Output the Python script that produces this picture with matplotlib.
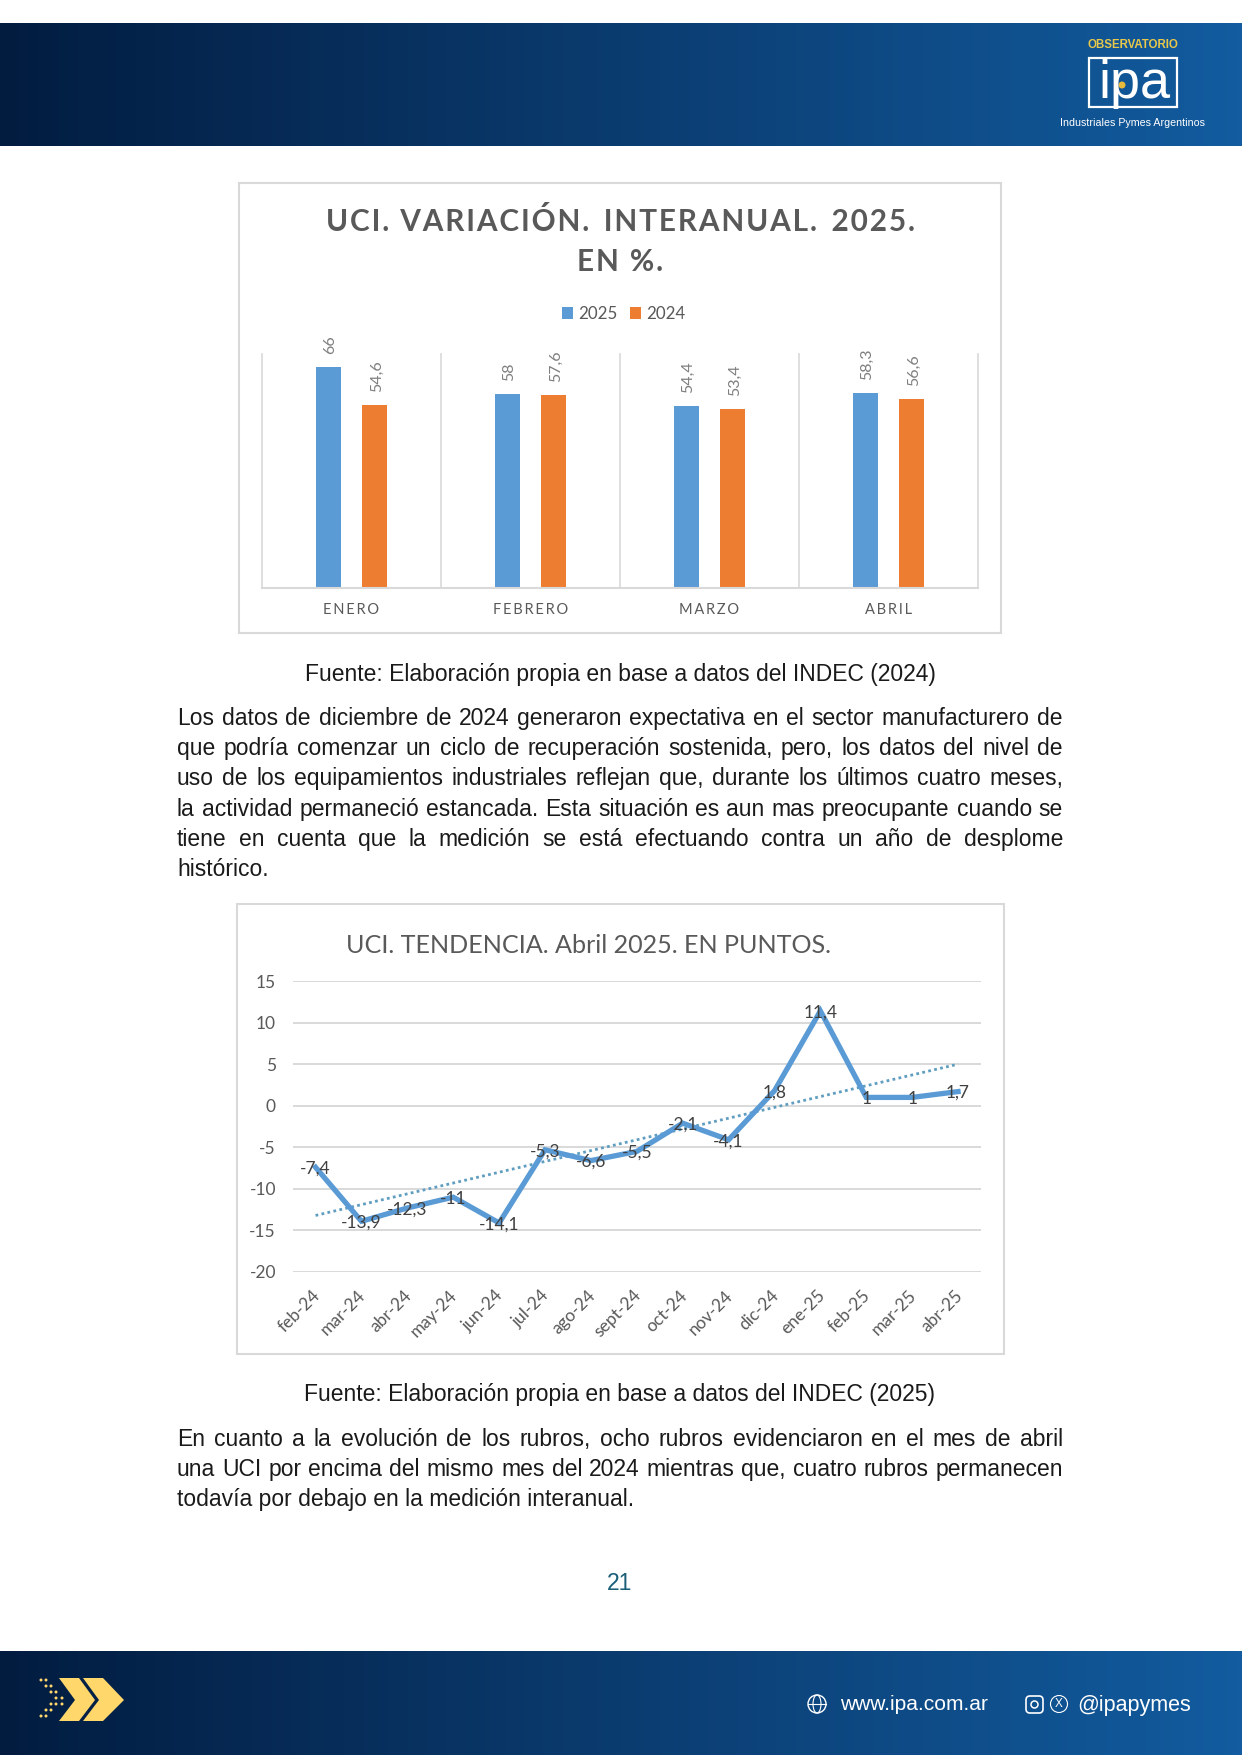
import numpy as np
import matplotlib
matplotlib.use('Agg')
import matplotlib.pyplot as plt
from matplotlib.patches import Polygon, Rectangle, Circle, FancyBboxPatch, Ellipse
from matplotlib.transforms import ScaledTranslation

W, H = 1242, 1755

# bar chart data
months = ['ENERO', 'FEBRERO', 'MARZO', 'ABRIL']
uci_2025 = [66, 58, 54.4, 58.3]
uci_2024 = [54.6, 57.6, 53.4, 56.6]

# line chart data
periods = ['feb-24', 'mar-24', 'abr-24', 'may-24', 'jun-24', 'jul-24', 'ago-24', 'sept-24',
           'oct-24', 'nov-24', 'dic-24', 'ene-25', 'feb-25', 'mar-25', 'abr-25']
trend_points = [-7.4, -13.9, -12.3, -11, -14.1, -5.3, -6.6, -5.5, -2.1, -4.1, 1.8, 11.4, 1, 1, 1.7]
trend_ends = [-13.2, 5.0]
y_ticks = [-20, -15, -10, -5, 0, 5, 10, 15]

para1 = ['Los datos de diciembre de 2024 generaron expectativa en el sector manufacturero de',
         'que podría comenzar un ciclo de recuperación sostenida, pero, los datos del nivel de',
         'uso de los equipamientos industriales reflejan que, durante los últimos cuatro meses,',
         'la actividad permaneció estancada. Esta situación es aun mas preocupante cuando se',
         'tiene en cuenta que la medición se está efectuando contra un año de desplome',
         'histórico.']
para2 = ['En cuanto a la evolución de los rubros, ocho rubros evidenciaron en el mes de abril',
         'una UCI por encima del mismo mes del 2024 mientras que, cuatro rubros permanecen',
         'todavía por debajo en la medición interanual.']

BLUE = '#5b9bd5'
ORANGE = '#ed7d31'
GREY = '#d9d9d9'
CHART_FONT = ['Lato', 'DejaVu Sans']
HAIR = '\u200a'

fig = plt.figure(figsize=(W / 100, H / 100), dpi=100, facecolor='white')


def px_axes(x0, y0, x1, y1, **kw):
    return fig.add_axes([x0 / W, 1 - y1 / H, (x1 - x0) / W, (y1 - y0) / H], **kw)


def spaced(s, sep=HAIR):
    return sep.join(s)


page = px_axes(0, 0, W, H)
page.set_xlim(0, W)
page.set_ylim(H, 0)
page.axis('off')

# header and footer bands
grad = np.linspace(0, 1, 256).reshape(1, -1)
cmap = matplotlib.colors.LinearSegmentedColormap.from_list('band', ['#021c40', '#0b3c70', '#125c9f'])
page.imshow(grad, extent=(0, W, 146, 23), aspect='auto', cmap=cmap)
page.imshow(grad, extent=(0, W, H, 1651), aspect='auto', cmap=cmap)
page.set_xlim(0, W)
page.set_ylim(H, 0)

# logo
page.text(1133, 45, 'OBSERVATORIO', color='#e8c84a', fontsize=8.3, fontweight='bold',
          family='Liberation Sans', ha='center', va='center')
page.add_patch(Rectangle((1089, 58), 88, 49, fill=False, ec='white', lw=1.6))
page.text(1134, 98, 'ipa', color='white', fontsize=39, family='Liberation Sans', ha='center', va='baseline')
page.add_patch(Circle((1122, 85), 3.5, fc='#e8b93a', ec='none'))
page.text(1132.5, 122.5, 'Industriales Pymes Argentinos', color='white', fontsize=7.7,
          family='Liberation Sans', ha='center', va='center')

# footer arrows
page.add_patch(Polygon([(59, 1678), (79, 1678), (95, 1700), (79, 1721), (59, 1721), (75, 1700)], fc='#ffd76a', ec='none'))
page.add_patch(Polygon([(83, 1678), (103, 1678), (124, 1700), (103, 1721), (83, 1721), (99, 1700)], fc='#ffd76a', ec='none'))
for dx, dy in [(41, 1680), (46, 1680), (46, 1686), (51, 1686), (51, 1692), (56, 1692), (56, 1698), (62, 1698),
               (56, 1704), (51, 1704), (51, 1710), (46, 1710), (46, 1716), (41, 1716), (62, 1704)]:
    page.add_patch(Circle((dx, dy), 1.5, fc='#ffd76a', ec='none'))

# footer contact line
page.add_patch(Circle((817, 1704), 9, fill=False, ec='white', lw=1))
page.add_patch(Ellipse((817, 1704), 8, 18, fill=False, ec='white', lw=0.8))
page.plot([808, 826], [1704, 1704], color='white', lw=0.8)
page.text(840, 1705, 'www.ipa.com.ar', color='white', fontsize=15.1, family='Liberation Sans', va='center')
page.add_patch(FancyBboxPatch((1028, 1698), 13, 13, boxstyle='round,pad=2,rounding_size=4', fill=False, ec='white', lw=1.2))
page.add_patch(Circle((1034.5, 1704.5), 3.5, fill=False, ec='white', lw=1.1))
page.add_patch(Circle((1059, 1704), 8.5, fill=False, ec='white', lw=0.8))
page.text(1059, 1704, 'X', color='white', fontsize=8.5, family='Liberation Sans', ha='center', va='center')
page.text(1077, 1705, '@ipapymes', color='white', fontsize=15.5, family='Liberation Sans', va='center')

# chart frames
page.add_patch(Rectangle((239, 183), 762, 450, fc='white', ec=GREY, lw=1.5))
page.add_patch(Rectangle((237, 904), 767, 450, fc='white', ec=GREY, lw=1.5))

# bars
ax1 = px_axes(262, 354, 978, 588)
ax1.patch.set_alpha(0)
x = np.arange(len(months))
off, bw = 0.13, 0.138
b25 = ax1.bar(x - off, uci_2025, bw, color=BLUE, label='2025')
b24 = ax1.bar(x + off, uci_2024, bw, color=ORANGE, label='2024')
ax1.set_xlim(-0.5, 3.5)
ax1.set_ylim(0, 70)
ax1.set_yticks([])
ax1.set_xticks(x)
ax1.set_xticklabels([spaced(m, HAIR * 2) for m in months], family=CHART_FONT, fontsize=10.5, color='#595959')
ax1.set_xticks(np.arange(-0.5, 4), minor=True)
ax1.tick_params(axis='x', which='both', length=0, pad=11)
ax1.grid(which='minor', axis='x', color=GREY, lw=1.2, clip_on=False)
ax1.set_axisbelow(True)
for s in ['top', 'left', 'right']:
    ax1.spines[s].set_visible(False)
ax1.spines['bottom'].set_color(GREY)
ax1.spines['bottom'].set_linewidth(1.5)
for bars, vals in [(b25, uci_2025), (b24, uci_2024)]:
    for r, v in zip(bars, vals):
        ax1.annotate(str(v).replace('.', ','), (r.get_x() + r.get_width() / 2, v), xytext=(1.5, 9.5),
                     textcoords='offset points', rotation=90, ha='center', va='bottom',
                     fontsize=11.5, color='#7f7f7f', family=CHART_FONT, annotation_clip=False)
ax1.legend(loc='center', bbox_to_anchor=(624 / W, 1 - 314 / H), bbox_transform=fig.transFigure, ncol=2,
           frameon=False, handlelength=0.6, handleheight=0.7, handletextpad=0.35, columnspacing=0.75,
           prop={'family': CHART_FONT, 'size': 12.2}, labelcolor='#595959')

page.text(620, 221, spaced('UCI. VARIACIÓN.') + '  ' + spaced('INTERANUAL.') + '  ' + spaced('2025.'),
          family=CHART_FONT, fontweight='bold', fontsize=21.4, color='#595959', ha='center', va='center')
page.text(620, 262, spaced('EN %.'), family=CHART_FONT, fontweight='bold', fontsize=21.4,
          color='#595959', ha='center', va='center')

# trend line chart
ax2 = px_axes(292.6, 981, 981, 1272)
ax2.patch.set_alpha(0)
xs = np.arange(len(periods))
ax2.plot(xs[[0, -1]], trend_ends, color='#5f9ec0', lw=2, ls=(0, (1, 1.2)), zorder=3)
ax2.plot(xs, trend_points, color=BLUE, lw=3.8, zorder=4, solid_joinstyle='miter')
ax2.set_xlim(-0.5, 14.5)
ax2.set_ylim(-20, 15)
ax2.set_yticks(y_ticks)
ax2.set_yticklabels([str(v) for v in y_ticks], family=CHART_FONT, fontsize=12.5, color='#595959')
ax2.set_xticks(xs)
ax2.set_xticklabels(periods, rotation=45, ha='right', rotation_mode='anchor', family=CHART_FONT,
                    fontsize=12.5, color='#595959')
ax2.tick_params(axis='y', length=0, pad=12)
ax2.tick_params(axis='x', length=0, pad=11)
shift = ScaledTranslation(-4 / 100, 0, fig.dpi_scale_trans)
for t in ax2.get_xticklabels():
    t.set_transform(t.get_transform() + shift)
ax2.grid(axis='y', color=GREY, lw=1.4)
ax2.set_axisbelow(True)
for s in ax2.spines.values():
    s.set_visible(False)
for i, v in enumerate(trend_points):
    ax2.annotate(str(v).replace('.', ','), (i, v), xytext=(0, -1), textcoords='offset points', ha='center',
                 va='center', fontsize=12.5, color='#404040', family=CHART_FONT, zorder=5)

page.text(346, 945, 'UCI. TENDENCIA. Abril 2025. EN PUNTOS.', family=CHART_FONT, fontsize=18.1,
          color='#595959', va='center')

# body text, justified by hand
renderer = fig.canvas.get_renderer()
BODY = dict(family='Liberation Sans', fontsize=16.5, color='#1a1a1a', va='baseline')


def body_block(lines, y0, step=30.2, left=177, right=1063):
    for n, line in enumerate(lines):
        y = y0 + n * step
        if n == len(lines) - 1:
            page.text(left, y, line, **BODY)
            continue
        words = line.split(' ')
        items = [page.text(0, y, w, **BODY) for w in words]
        widths = [t.get_window_extent(renderer).width for t in items]
        gap = (right - left - sum(widths)) / (len(words) - 1)
        pos = left
        for t, wd in zip(items, widths):
            t.set_x(pos)
            pos += wd + gap


body_block(para1, 725)
body_block(para2, 1446)

page.text(620, 675, 'Fuente: Elaboración propia en base a datos del INDEC (2024)', family='Liberation Sans',
          fontsize=16.5, color='#1a1a1a', ha='center', va='center')
page.text(620, 1395, 'Fuente: Elaboración propia en base a datos del INDEC (2025)', family='Liberation Sans',
          fontsize=16.5, color='#1a1a1a', ha='center', va='center')
page.text(620, 1583, '21', family='Liberation Sans', fontsize=16.5, color='#1b5e78', ha='center', va='center')

fig.savefig('out.png', dpi=100)
